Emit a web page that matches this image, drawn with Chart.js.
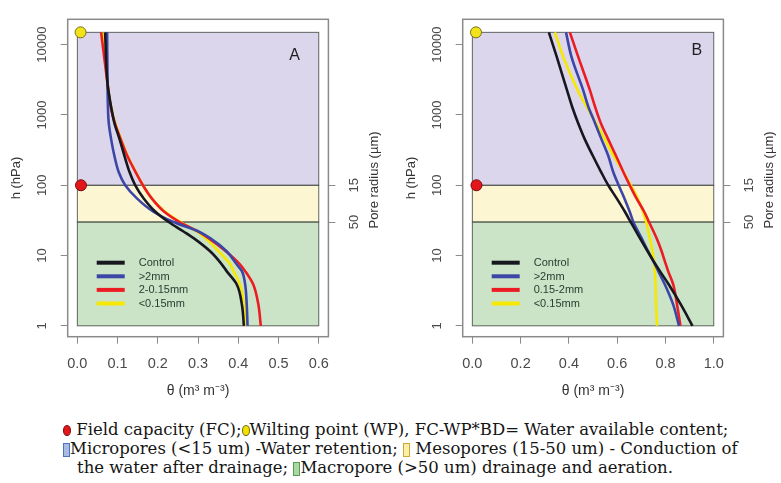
<!DOCTYPE html>
<html>
<head>
<meta charset="utf-8">
<script src="https://cdn.jsdelivr.net/npm/chart.js@4/dist/chart.umd.min.js"></script>
<style>
  html, body { margin: 0; padding: 0; background: #fff; }
  body { width: 781px; height: 483px; position: relative; overflow: hidden; }
  canvas.panel { position: absolute; top: 0; }
  .ln { position: absolute; white-space: nowrap; font-family: 'DejaVu Serif', 'Liberation Serif', serif;
        font-size: 16.5px; line-height: 19px; color: #151515; }
  .dot { display: inline-block; width: 8px; height: 11px; border-radius: 50%; box-sizing: border-box; vertical-align: -1px; }
  .sw { display: inline-block; width: 7px; height: 14px; box-sizing: border-box; vertical-align: -3px; }
</style>
</head>
<body>
<canvas id="panelA" class="panel" style="left:0px" width="386" height="400"></canvas>
<canvas id="panelB" class="panel" style="left:395px" width="386" height="400"></canvas>

<div class="ln" style="left:63px; top:420px;"><span class="dot" style="background:#e2161b;border:1px solid #7d0b0b;"></span> Field capacity (FC);<span class="dot" style="background:#f2e200;border:1.5px solid #6e6a10;"></span>Wilting point (WP), FC-WP*BD= Water available content;</div>
<div class="ln" style="left:63px; top:439px;"><span class="sw" style="background:#a9bbe0;border:1px solid #4f72bf;"></span>Micropores (&lt;15 um) -Water retention; <span class="sw" style="background:#fbefa6;border:1px solid #c9a93c;"></span> Mesopores (15-50 um) - Conduction of</div>
<div class="ln" style="left:77px; top:458px;">the water after drainage; <span class="sw" style="background:#a9d9a2;border:1px solid #5a9c52;"></span>Macropore (&gt;50 um) drainage and aeration.</div>

<script>
// Suction (hPa) at which each water-content value was taken
const hA = [15000, 2800, 1300, 770, 450, 263, 153, 100, 65, 42, 30, 22, 17.7, 11.5, 7.5, 6, 3.9, 2, 1];
const hB = [15000, 6650, 2260, 1320, 770, 450, 263, 153, 100, 65, 42, 30, 17.7, 11.5, 8.4, 6, 3.9, 2, 1];

// Panel A: volumetric water content θ (m3 m-3)
const controlA = [0.069, 0.075, 0.084, 0.092, 0.105, 0.117, 0.130, 0.144, 0.165, 0.194, 0.227, 0.264, 0.289, 0.330, 0.359, 0.371, 0.396, 0.409, 0.414];
const coarseA  = [0.074, 0.075, 0.076, 0.078, 0.084, 0.092, 0.103, 0.119, 0.148, 0.189, 0.239, 0.301, 0.330, 0.371, 0.396, 0.409, 0.417, 0.421, 0.423];
const mediumA  = [0.059, 0.075, 0.083, 0.093, 0.108, 0.124, 0.145, 0.163, 0.185, 0.216, 0.254, 0.300, 0.326, 0.369, 0.404, 0.417, 0.437, 0.450, 0.456];
const fineA    = [0.065, 0.075, 0.084, 0.094, 0.109, 0.125, 0.146, 0.163, 0.185, 0.218, 0.256, 0.297, 0.318, 0.351, 0.380, 0.388, 0.404, 0.414, 0.418];

// Panel B: volumetric water content θ (m3 m-3)
const controlB = [0.317, 0.350, 0.392, 0.413, 0.438, 0.466, 0.499, 0.534, 0.563, 0.598, 0.632, 0.656, 0.694, 0.726, 0.750, 0.777, 0.813, 0.864, 0.912];
const coarseB  = [0.388, 0.411, 0.459, 0.480, 0.508, 0.535, 0.563, 0.584, 0.606, 0.630, 0.652, 0.667, 0.701, 0.728, 0.749, 0.770, 0.797, 0.832, 0.856];
const mediumB  = [0.404, 0.439, 0.487, 0.508, 0.532, 0.563, 0.595, 0.626, 0.652, 0.680, 0.712, 0.732, 0.763, 0.784, 0.797, 0.811, 0.832, 0.848, 0.862];
const fineB    = [0.342, 0.377, 0.436, 0.473, 0.512, 0.549, 0.585, 0.627, 0.657, 0.685, 0.707, 0.720, 0.735, 0.746, 0.752, 0.756, 0.759, 0.761, 0.765];

const labelsA = ['Control', '>2mm', '2-0.15mm', '<0.15mm'];
const labelsB = ['Control', '>2mm', '0.15-2mm', '<0.15mm'];

// Field capacity and wilting point markers (θ, h)
const fcPoint = { A: [0.009, 100], B: [0.017, 100] };
const wpPoint = { A: [0.008, 15000], B: [0.015, 15000] };

// Axis ticks
const xTicksA = [0, 0.1, 0.2, 0.3, 0.4, 0.5, 0.6];
const xTicksB = [0, 0.2, 0.4, 0.6, 0.8, 1.0];
const hTicks = [1, 10, 100, 1000, 10000];
const poreTickH = [100, 30];
const poreTickLabels = ['15', '50'];

// Pore-class bands (hPa limits, bottom to top): macro, meso, micro
const bandLimits = [1, 30, 100, 15000];
const bandColors = ['#cbe3c6', '#fdf6d2', '#dbd6eb'];

const seriesColors = ['#17171f', '#3b46a6', '#ec1c24', '#f6e800'];

Chart.defaults.font.family = "'Liberation Sans', Arial, sans-serif";

const panelDecor = {
  id: 'panelDecor',
  beforeDatasetsDraw(chart, args, opts) {
    const { ctx, chartArea: a, scales: { x, y } } = chart;
    ctx.save();
    ctx.fillStyle = '#ffffff';
    ctx.fillRect(a.left, a.top, a.right - a.left, a.bottom - a.top);
    const x0 = x.getPixelForValue(opts.xRange[0]);
    const x1 = x.getPixelForValue(opts.xRange[1]);
    for (let i = 0; i < bandColors.length; i++) {
      const yb = y.getPixelForValue(bandLimits[i]);
      const yt = y.getPixelForValue(bandLimits[i + 1]);
      ctx.fillStyle = bandColors[i];
      ctx.fillRect(x0, yt, x1 - x0, yb - yt);
    }
    ctx.lineWidth = 1;
    ctx.strokeStyle = 'rgba(70,78,70,0.85)';
    for (let i = 0; i < bandColors.length; i++) {
      const yb = y.getPixelForValue(bandLimits[i]);
      const yt = y.getPixelForValue(bandLimits[i + 1]);
      ctx.strokeRect(x0, yt, x1 - x0, yb - yt);
    }
    ctx.restore();
  },
  afterDatasetsDraw(chart, args, opts) {
    const { ctx, chartArea: a, scales: { x, y } } = chart;
    ctx.save();
    // frame
    ctx.strokeStyle = '#8a8a8a';
    ctx.lineWidth = 1.5;
    ctx.strokeRect(a.left, a.top, a.right - a.left, a.bottom - a.top);
    // panel letter
    ctx.fillStyle = '#1e1e1e';
    ctx.font = "16px 'Liberation Sans', Arial, sans-serif";
    ctx.textAlign = 'center';
    ctx.textBaseline = 'middle';
    ctx.fillText(opts.letter, x.getPixelForValue(opts.letterAt[0]), y.getPixelForValue(opts.letterAt[1]));
    // legend
    const rows = chart.data.datasets.filter(d => d.inLegend);
    ctx.font = "11px 'Liberation Sans', Arial, sans-serif";
    ctx.textAlign = 'left';
    rows.forEach((d, i) => {
      const ry = a.bottom - 74 + i * 13.6;
      ctx.strokeStyle = d.borderColor;
      ctx.lineWidth = 4;
      ctx.beginPath();
      ctx.moveTo(a.left + 29, ry);
      ctx.lineTo(a.left + 57, ry);
      ctx.stroke();
      ctx.fillStyle = '#273f33';
      ctx.fillText(d.label, a.left + 71, ry + 0.5);
    });
    // right-hand axis title
    ctx.translate(a.right + 46, (a.top + a.bottom) / 2 + 2);
    ctx.rotate(-Math.PI / 2);
    ctx.fillStyle = '#333';
    ctx.font = "13px 'Liberation Sans', Arial, sans-serif";
    ctx.textAlign = 'center';
    ctx.fillText('Pore radius (\u00b5m)', 0, 0);
    ctx.restore();
  }
};

function curve(hs, vals) {
  return hs.map((h, i) => ({ x: vals[i], y: h }));
}

function makePanel(id, hs, series, labels, xMax, xTicks, key, letterAt) {
  const pad = 0.04 * xMax;
  const datasets = series.map((vals, i) => ({
    type: 'line',
    label: labels[i],
    data: curve(hs, vals),
    indexAxis: 'y',
    borderColor: seriesColors[i],
    borderWidth: 2.6,
    pointRadius: 0,
    cubicInterpolationMode: 'monotone',
    fill: false,
    inLegend: true
  }));
  datasets.push({
    type: 'scatter', label: 'FC', data: [{ x: fcPoint[key][0], y: fcPoint[key][1] }],
    pointRadius: 5.5, pointBackgroundColor: '#e2161b', pointBorderColor: '#7a0c0c', pointBorderWidth: 1, clip: false
  });
  datasets.push({
    type: 'scatter', label: 'WP', data: [{ x: wpPoint[key][0], y: wpPoint[key][1] }],
    pointRadius: 5.5, pointBackgroundColor: '#f1e21a', pointBorderColor: '#77701a', pointBorderWidth: 1, clip: false
  });

  return new Chart(document.getElementById(id), {
    type: 'line',
    data: { datasets },
    plugins: [panelDecor],
    options: {
      responsive: false,
      animation: false,
      devicePixelRatio: 1,
      layout: { padding: { top: 15, left: 0, right: 0, bottom: 0 } },
      plugins: {
        legend: { display: false },
        tooltip: { enabled: false },
        panelDecor: { xRange: [0, xMax], letter: key, letterAt }
      },
      scales: {
        x: {
          type: 'linear',
          min: -pad, max: xMax + pad,
          afterBuildTicks: s => { s.ticks = xTicks.map(v => ({ value: v })); },
          afterFit: s => { s.height = 63.3; },
          ticks: { callback: v => Number(v).toFixed(1), font: { size: 14.5 }, color: '#4a4a4a', padding: 12, maxRotation: 0, autoSkip: false },
          grid: { drawOnChartArea: false, drawTicks: true, tickLength: 7, color: '#8a8a8a', lineWidth: 1 },
          border: { display: false },
          title: { display: true, text: 'θ (m³ m⁻³)', font: { size: 14 }, color: '#333', padding: { top: 0, bottom: 0 } }
        },
        y: {
          type: 'logarithmic',
          position: 'left',
          min: 0.7, max: 23000,
          afterBuildTicks: s => { s.ticks = hTicks.map(v => ({ value: v })); },
          afterFit: s => { s.width = 67.7; },
          ticks: { callback: v => String(v), font: { size: 13 }, color: '#4a4a4a', minRotation: 90, maxRotation: 90, crossAlign: 'center', padding: 0, autoSkip: false },
          grid: { drawOnChartArea: false, drawTicks: true, tickLength: 7, color: '#8a8a8a', lineWidth: 1 },
          border: { display: false },
          title: { display: true, text: 'h (hPa)', font: { size: 13 }, color: '#333', padding: { top: 9, bottom: 0 } }
        },
        y2: {
          type: 'logarithmic',
          position: 'right',
          min: 0.7, max: 23000,
          afterBuildTicks: s => { s.ticks = poreTickH.map(v => ({ value: v })); },
          afterFit: s => { s.width = 57.6; },
          ticks: { callback: (v, i) => poreTickLabels[i], font: { size: 13 }, color: '#4a4a4a', minRotation: 90, maxRotation: 90, crossAlign: 'center', padding: 11.5, autoSkip: false },
          grid: { drawOnChartArea: false, drawTicks: true, tickLength: 7, color: '#8a8a8a', lineWidth: 1 },
          border: { display: false }
        }
      }
    }
  });
}

makePanel('panelA', hA, [controlA, coarseA, mediumA, fineA], labelsA, 0.6, xTicksA, 'A', [0.54, 7000]);
makePanel('panelB', hB, [controlB, coarseB, mediumB, fineB], labelsB, 1.0, xTicksB, 'B', [0.93, 8300]);
</script>
</body>
</html>
